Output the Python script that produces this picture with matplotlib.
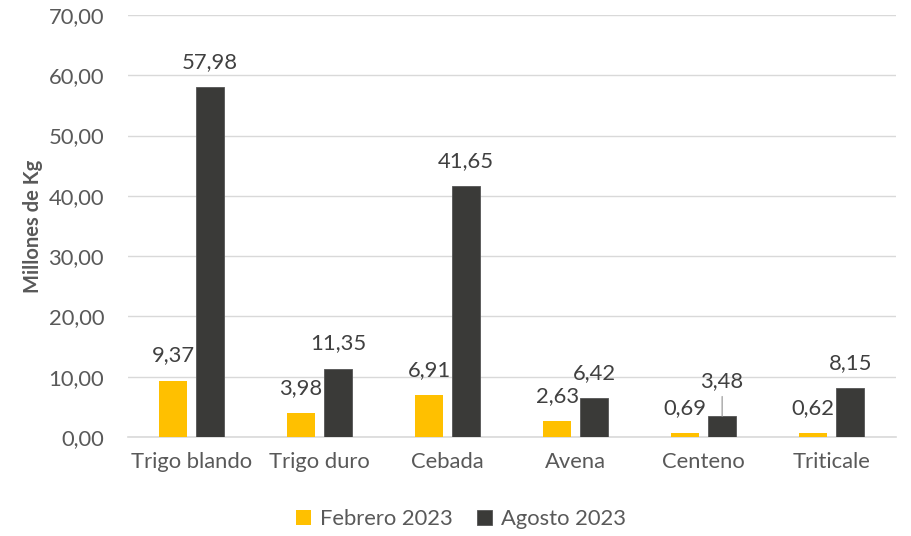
import matplotlib.pyplot as plt
import numpy as np
from matplotlib.ticker import FuncFormatter

categories = ['Trigo blando', 'Trigo duro', 'Cebada', 'Avena', 'Centeno', 'Triticale']
febrero = [9.37, 3.98, 6.91, 2.63, 0.69, 0.62]
agosto = [57.98, 11.35, 41.65, 6.42, 3.48, 8.15]
series_names = ['Febrero 2023', 'Agosto 2023']

plt.rcParams['font.family'] = ['Lato', 'DejaVu Sans']
gray = '#595959'
fs = 15.8

def coma(v):
    return f'{v:.2f}'.replace('.', ',')

fig = plt.figure(figsize=(9.12, 5.36), dpi=100)
ax = fig.add_axes([0.140, 0.1847, 0.842, 0.7873])

x = np.arange(len(categories))
w = 0.22
off = 0.145
ax.bar(x - off, febrero, w, color='#FFC000', label=series_names[0], zorder=3)
ax.bar(x + off, agosto, w, color='#3A3A38', edgecolor='#555555', linewidth=0.6,
       label=series_names[1], zorder=3)

for xi, v in zip(x - off, febrero):
    ax.annotate(coma(v), (xi, v), xytext=(0, 18), textcoords='offset points',
                ha='center', va='center', fontsize=fs, color='#404040')
for xi, v, name in zip(x + off, agosto, categories):
    if name == 'Centeno':
        # etiqueta desplazada con linea guia
        ax.annotate(coma(v), (xi, v), xytext=(0, 25), textcoords='offset points',
                    ha='center', va='center', fontsize=fs, color='#404040')
        ax.annotate('', (xi, v), xytext=(0, 14), textcoords='offset points',
                    arrowprops=dict(arrowstyle='-', color='#A6A6A6', lw=1,
                                    shrinkA=0, shrinkB=0))
    else:
        ax.annotate(coma(v), (xi, v), xytext=(0, 18), textcoords='offset points',
                    ha='center', va='center', fontsize=fs, color='#404040')

ax.set_ylim(0, 70)
ax.set_xlim(-0.5, len(categories) - 0.5)
ax.set_yticks(np.arange(0, 71, 10))
ax.yaxis.set_major_formatter(FuncFormatter(lambda v, p: coma(v)))
ax.set_xticks(x)
ax.set_xticklabels(categories)
ax.grid(axis='y', color='#D9D9D9', linewidth=1, zorder=0)
for s in ['top', 'right', 'left']:
    ax.spines[s].set_visible(False)
ax.spines['bottom'].set_color('#D9D9D9')
ax.spines['bottom'].set_linewidth(1.2)
ax.tick_params(axis='both', length=0, labelsize=fs, colors=gray)
ax.tick_params(axis='y', pad=17)
ax.tick_params(axis='x', pad=11)
ax.set_ylabel('Millones de Kg', fontsize=14.5, fontweight='bold', color=gray, labelpad=4)

ax.legend(loc='upper center', bbox_to_anchor=(0.434, -0.125), ncol=2, frameon=False,
          fontsize=fs, labelcolor=gray, handlelength=0.7, handleheight=0.7,
          columnspacing=1.1, handletextpad=0.4)

fig.savefig('out.png', dpi=100)
